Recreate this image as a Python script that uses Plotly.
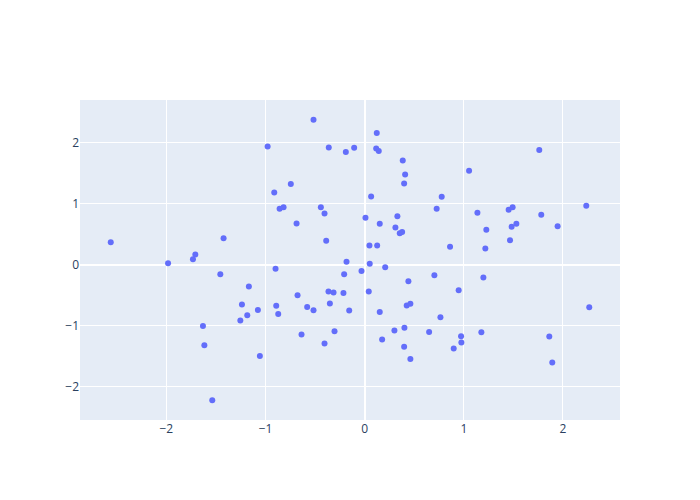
import plotly.graph_objects as go

x_vals = [
    -2.561, -1.423, -1.708, -1.732,
    -1.983, -1.456, -1.168, -1.238, -1.077, -1.184, -1.254, -1.631, -1.617, -1.057, -1.537,
    -0.516, 0.122, -0.979, -0.362, -0.190, -0.106, 0.116, 0.142, 0.384, 0.408,
    0.398, -0.745, -0.912, 0.065, 0.777, -0.858, -0.818, -0.442, -0.405, -0.687,
    0.008, 0.152, 0.330, 0.726, 0.310, 0.354, 0.378, -0.388, 0.048, 0.126,
    1.761, 1.053, 1.137, 1.452, 1.492, 1.781, 2.235, 1.227, 1.482, 1.530,
    1.946, 1.466, 0.861, 1.217,
    -0.899, -0.183, 0.051, 0.207, -0.032, -0.207, 0.703, 0.441, -0.677, -0.365,
    -0.314, -0.214, 0.041, -0.892, -0.872, -0.580, -0.516, -0.351, -0.156, 0.152,
    0.424, 0.461, -0.637, -0.304, -0.405, 0.300, 0.401, 0.650, 0.176, 0.398, 0.461,
    1.197, 0.948, 0.764, 2.265, 1.177, 0.972, 0.975, 0.898, 1.862, 1.892,
]
y_vals = [
    0.369, 0.435, 0.167, 0.090,
    0.025, -0.156, -0.358, -0.654, -0.742, -0.829, -0.917, -1.005, -1.322, -1.497, -2.225,
    2.378, 2.159, 1.940, 1.924, 1.847, 1.918, 1.908, 1.864, 1.711, 1.481,
    1.333, 1.322, 1.186, 1.120, 1.113, 0.916, 0.944, 0.944, 0.841, 0.676,
    0.769, 0.670, 0.796, 0.916, 0.611, 0.517, 0.534, 0.391, 0.315, 0.315,
    1.880, 1.540, 0.851, 0.900, 0.944, 0.818, 0.966, 0.572, 0.621, 0.670,
    0.632, 0.402, 0.292, 0.266,
    -0.069, 0.046, 0.013, -0.041, -0.102, -0.156, -0.172, -0.271, -0.501, -0.440,
    -0.456, -0.463, -0.440, -0.676, -0.808, -0.693, -0.747, -0.637, -0.752, -0.775,
    -0.670, -0.643, -1.146, -1.092, -1.294, -1.081, -1.037, -1.103, -1.228, -1.349, -1.547,
    -0.210, -0.419, -0.862, -0.698, -1.108, -1.174, -1.278, -1.376, -1.179, -1.606,
]

fig = go.Figure(go.Scatter(x=x_vals, y=y_vals, mode="markers"))
fig.update_layout(width=684, height=484, margin=dict(l=72, r=72, t=92, b=72))
fig.write_html("out.html")
